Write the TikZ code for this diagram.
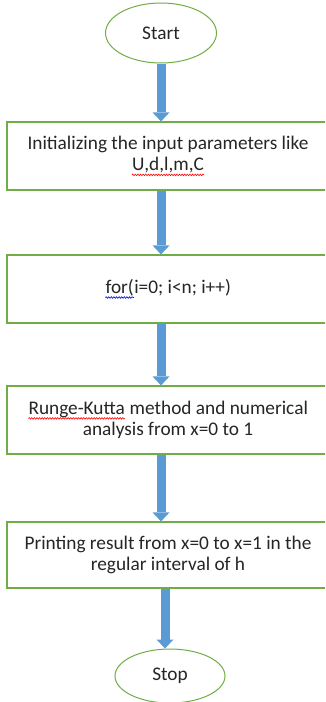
\documentclass[tikz,border=0pt]{standalone}
\usepackage{fontspec}
\setmainfont{Carlito}
\usepackage{xcolor}
\usetikzlibrary{shapes.geometric,arrows.meta,decorations.pathmorphing}
\definecolor{boxgreen}{HTML}{70AD47}
\definecolor{flowblue}{HTML}{5B9BD5}
\definecolor{txt}{HTML}{262626}
\newcommand\wavy[2]{\tikz[baseline=(w.base),x=1pt,y=1pt]{%
  \node[shape=rectangle, inner sep=0pt, minimum width=0pt, minimum height=0pt,
    draw=none, fill=none, anchor=center, text=txt] (w) {#2};
  \draw[#1, line width=0.6pt, decorate,
    decoration={snake, amplitude=0.8pt, segment length=2.6pt}]
    ([yshift=-4pt]w.base west) -- ([yshift=-4pt]w.base east);}}
\tikzset{
  term/.style={ellipse, draw=boxgreen, line width=1pt, fill=white,
    minimum width=111pt, minimum height=60pt, inner sep=0pt, text=txt},
  procbox/.style={rectangle, draw=boxgreen, line width=1.2pt, fill=white,
    minimum width=322pt, align=center, text=txt, inner sep=0pt},
  flow/.style={draw=flowblue, line width=9pt,
    -{Triangle[width=17pt,length=9pt,line width=0pt]}},
}

\begin{document}
\begin{tikzpicture}[x=1pt,y=-1pt,font=\fontsize{19.3}{21.5}\selectfont]
  \useasboundingbox (0,0) rectangle (325,702);
  \clip (0,0) rectangle (325,702);
  \node[term] (start) at (161,33) {Start};
  \node[procbox, minimum height=68pt] (init) at (168,156)
    {Initializing the input parameters like\\ \wavy{red}{U,d,l,m,C}};
  \node[procbox, minimum height=68pt] (loop) at (168,289)
    {\wavy{blue}{for(}i=0; i<n; i++)};
  \node[procbox, minimum height=68pt] (rk) at (168,420)
    {\wavy{red}{Runge-Kutta} method and numerical\\ analysis from x=0 to 1};
  \node[procbox, minimum height=66pt] (print) at (168,555)
    {Printing result from x=0 to x=1 in the\\ regular interval of h};
  \node[term, minimum width=110pt, minimum height=54pt] (stop) at (170,676) {Stop};
  \draw[flow] (start.south) -- (init.north -| start);
  \draw[flow] (init.south -| start) -- (loop.north -| start);
  \draw[flow] (loop.south -| start) -- (rk.north -| start);
  \draw[flow] (rk.south -| start) -- (print.north -| start);
  \draw[flow] ([xshift=-5pt]print.south -| stop) -- ([xshift=-5pt]stop.north);
\end{tikzpicture}
\end{document}
